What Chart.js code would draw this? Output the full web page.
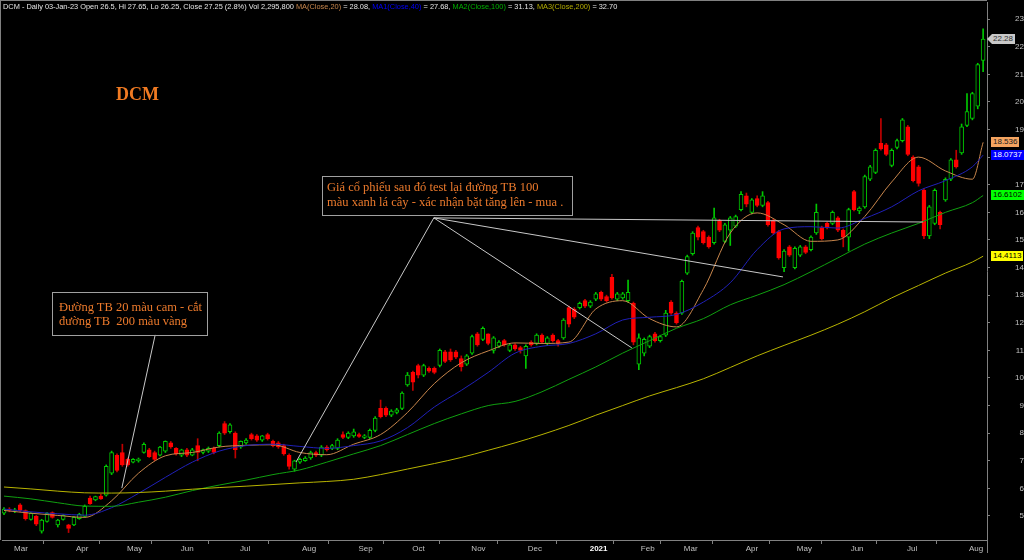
<!DOCTYPE html>
<html>
<head>
<meta charset="utf-8">
<script src="https://cdn.jsdelivr.net/npm/chart.js@4.4.1/dist/chart.umd.min.js"></script>
<style>
  html, body { margin: 0; padding: 0; background: #000; }
  #wrap { position: relative; width: 1024px; height: 560px; background: #000; overflow: hidden; }
  #wrap div { pointer-events: none; }
  #hdr { position: absolute; left: 3px; top: 2px; font: 7.4px "Liberation Sans", Arial, sans-serif; line-height: 10px; color: #e6e6e6; white-space: nowrap; }
  #title { position: absolute; left: 116px; top: 84px; font: bold 18px "Liberation Serif", "Times New Roman", serif; color: #f07a22; }
  .note { position: absolute; border: 1px solid #a0a0a0; box-sizing: border-box; color: #ec7a2c;
          font: 12.5px "Liberation Serif", "Times New Roman", serif; white-space: pre; }
  .tag { position: absolute; font: 8px "Liberation Sans", Arial, sans-serif; height: 10px; line-height: 10px; padding: 0 2px; }
</style>
</head>
<body>
<div id="wrap">
  <canvas id="chart" width="1024" height="560"></canvas>
  <div id="hdr">DCM - Daily 03-Jan-23 Open 26.5, Hi 27.65, Lo 26.25, Close 27.25 (2.8%) Vol 2,295,800 <span style="color:#c8864c">MA(Close,20)</span> = 28.08, <span style="color:#0000ff">MA1(Close,40)</span> = 27.68, <span style="color:#00b000">MA2(Close,100)</span> = 31.13, <span style="color:#b4ac00">MA3(Close,200)</span> = 32.70</div>
  <div id="title">DCM</div>
  <div class="note" style="left:52px;top:292px;width:156px;height:44px;padding:7px 0 0 6px;line-height:14px;">Đường TB 20 màu cam - cắt
đường TB  200 màu vàng</div>
  <div class="note" style="left:322px;top:176px;width:251px;height:40px;padding:3px 0 0 4px;line-height:15px;">Giá cổ phiếu sau đó test lại đường TB 100
màu xanh lá cây - xác nhận bặt tăng lên - mua .</div>
</div>
<script>
// daily candles merged two sessions per bar, Feb 2020 .. Aug 2021
const opens = [
  5.1, 5.25, 5.2, 5.4, 5.2, 4.88, 5.0, 4.45, 4.8, 5.12,
  4.68, 4.88, 4.68, 4.68, 4.9, 4.98, 5.65, 5.58, 5.72, 5.75,
  6.55, 7.2, 7.3, 7.05, 6.95, 7.0, 7.3, 7.4, 7.3, 7.2,
  7.35, 7.65, 7.45, 7.2, 7.4, 7.2, 7.55, 7.3, 7.35, 7.45,
  7.55, 8.35, 8.05, 8.0, 7.5, 7.65, 7.95, 7.9, 7.75, 7.95,
  7.7, 7.65, 7.55, 7.2, 6.7, 6.95, 7.0, 7.1, 7.3, 7.2,
  7.5, 7.45, 7.45, 7.95, 7.85, 7.9, 7.95, 7.85, 7.85, 8.1,
  8.9, 8.9, 8.65, 8.75, 8.9, 9.75, 10.2, 10.45, 10.1, 10.35,
  10.35, 10.45, 10.95, 10.95, 10.95, 10.7, 10.5, 10.9, 11.6, 11.4,
  11.6, 11.0, 11.15, 11.35, 11.0, 11.2, 11.1, 10.8, 11.3, 11.25,
  11.55, 11.25, 11.55, 11.35, 11.45, 12.55, 12.5, 12.55, 12.8, 12.6,
  12.85, 13.1, 12.95, 13.65, 12.85, 12.9, 12.8, 12.7, 10.5, 10.9,
  11.15, 11.6, 11.35, 11.55, 12.75, 12.35, 12.35, 13.8, 14.5, 15.45,
  15.3, 15.1, 14.9, 15.7, 14.95, 15.35, 15.5, 16.1, 16.6, 16.0,
  16.5, 16.25, 16.35, 15.7, 15.3, 14.0, 14.75, 14.0, 14.45, 14.75,
  14.65, 15.25, 15.45, 15.6, 15.6, 15.8, 15.35, 15.1, 16.75, 16.05,
  16.2, 17.2, 17.45, 18.5, 18.45, 17.7, 18.35, 18.6, 19.1, 18.0,
  17.65, 16.8, 15.15, 15.6, 16.0, 16.45, 17.2, 17.9, 18.15, 19.15,
  19.4, 19.85, 21.5
];
const highs = [
  5.3, 5.3, 5.28, 5.45, 5.22, 5.12, 5.02, 4.88, 5.12, 5.15,
  4.88, 5.05, 4.7, 4.98, 5.1, 5.4, 5.72, 5.72, 5.78, 6.85,
  7.35, 7.25, 7.6, 7.1, 7.08, 7.1, 7.65, 7.45, 7.35, 7.52,
  7.72, 7.7, 7.48, 7.42, 7.45, 7.45, 7.8, 7.42, 7.5, 7.5,
  8.05, 8.42, 8.35, 8.05, 7.72, 7.8, 8.0, 7.95, 7.92, 8.0,
  7.75, 7.7, 7.6, 7.25, 7.02, 7.1, 7.15, 7.35, 7.35, 7.55,
  7.55, 7.6, 7.8, 8.05, 8.05, 8.15, 8.0, 7.95, 8.15, 8.6,
  9.2, 8.95, 8.85, 8.9, 9.5, 10.2, 10.25, 10.5, 10.5, 10.4,
  10.4, 11.05, 11.0, 11.05, 11.0, 10.8, 10.85, 11.55, 11.65, 11.85,
  11.6, 11.5, 11.35, 11.4, 11.22, 11.25, 11.15, 11.2, 11.35, 11.6,
  11.6, 11.5, 11.6, 11.4, 12.15, 12.6, 12.55, 12.75, 12.85, 12.8,
  13.1, 13.15, 13.0, 13.75, 13.1, 13.1, 13.55, 12.75, 11.6, 11.45,
  11.55, 11.65, 11.55, 12.45, 12.8, 12.4, 13.55, 14.45, 15.3, 15.5,
  15.35, 15.15, 16.15, 15.75, 15.6, 15.85, 15.9, 16.75, 16.7, 16.5,
  16.6, 16.75, 16.4, 15.75, 15.35, 14.65, 14.8, 14.75, 14.8, 14.8,
  15.15, 16.3, 15.5, 15.65, 16.05, 15.85, 15.4, 16.15, 16.8, 16.2,
  17.35, 17.7, 18.3, 19.4, 18.5, 18.3, 18.65, 19.4, 19.15, 18.05,
  17.7, 16.85, 16.25, 16.85, 16.05, 17.25, 17.95, 18.25, 19.2, 20.3,
  20.35, 21.4, 22.65
];
const lows = [
  5.05, 5.15, 5.12, 5.15, 4.85, 4.85, 4.65, 4.38, 4.78, 4.92,
  4.6, 4.85, 4.4, 4.65, 4.88, 4.95, 5.42, 5.55, 5.6, 5.72,
  6.5, 6.6, 6.8, 6.8, 6.92, 6.95, 7.28, 7.12, 7.0, 7.18,
  7.3, 7.45, 7.2, 7.15, 7.15, 7.18, 7.0, 7.25, 7.3, 7.25,
  7.5, 7.95, 8.0, 7.1, 7.45, 7.6, 7.75, 7.7, 7.7, 7.75,
  7.5, 7.45, 7.2, 6.7, 6.62, 6.9, 6.98, 7.05, 7.15, 7.15,
  7.35, 7.4, 7.4, 7.8, 7.8, 7.85, 7.85, 7.8, 7.8, 8.05,
  8.55, 8.6, 8.6, 8.7, 8.85, 9.7, 9.55, 10.0, 10.05, 10.2,
  10.15, 10.4, 10.55, 10.6, 10.7, 10.25, 10.45, 10.85, 11.15, 11.35,
  11.2, 10.9, 11.1, 11.15, 10.95, 11.0, 10.9, 10.35, 11.15, 11.2,
  11.25, 11.2, 11.3, 11.15, 11.4, 11.85, 12.15, 12.5, 12.55, 12.55,
  12.8, 12.8, 12.75, 12.85, 12.8, 12.85, 12.75, 11.2, 10.3, 10.8,
  11.1, 11.3, 11.3, 11.5, 12.3, 11.95, 12.3, 13.75, 14.45, 15.0,
  14.85, 14.7, 14.85, 15.3, 14.9, 14.8, 15.45, 16.05, 16.2, 15.95,
  16.2, 16.2, 15.5, 15.2, 14.3, 13.85, 14.4, 13.95, 14.4, 14.5,
  14.6, 15.2, 15.0, 15.4, 15.55, 15.3, 14.75, 14.6, 16.05, 15.95,
  16.15, 17.15, 17.4, 18.25, 18.05, 17.65, 18.3, 18.55, 18.05, 17.1,
  16.95, 15.05, 15.05, 15.55, 15.4, 16.4, 17.15, 17.6, 18.1, 19.1,
  19.35, 19.75, 21.1
];
const closes = [
  5.25, 5.2, 5.22, 5.2, 4.9, 5.1, 4.7, 4.85, 5.1, 4.95,
  4.85, 5.02, 4.55, 4.95, 5.06, 5.35, 5.45, 5.7, 5.62, 6.8,
  7.3, 6.65, 6.85, 6.85, 7.05, 7.06, 7.6, 7.15, 7.05, 7.5,
  7.7, 7.5, 7.25, 7.4, 7.2, 7.4, 7.3, 7.4, 7.45, 7.3,
  8.0, 8.0, 8.3, 7.4, 7.7, 7.75, 7.8, 7.75, 7.9, 7.8,
  7.55, 7.5, 7.25, 6.8, 7.0, 7.05, 7.1, 7.3, 7.2, 7.5,
  7.4, 7.55, 7.75, 7.85, 8.0, 8.05, 7.88, 7.9, 8.1, 8.55,
  8.6, 8.65, 8.8, 8.85, 9.45, 10.1, 9.85, 10.1, 10.45, 10.25,
  10.2, 11.0, 10.6, 10.65, 10.75, 10.4, 10.8, 11.5, 11.2, 11.8,
  11.25, 11.45, 11.3, 11.2, 11.2, 11.05, 11.0, 11.15, 11.2, 11.55,
  11.3, 11.45, 11.35, 11.25, 12.1, 11.95, 12.2, 12.7, 12.6, 12.75,
  13.05, 12.85, 12.8, 12.9, 13.05, 13.05, 13.1, 11.3, 11.45, 11.4,
  11.5, 11.35, 11.5, 12.35, 12.35, 12.0, 13.5, 14.4, 15.25, 15.1,
  14.9, 14.75, 15.8, 15.35, 15.55, 15.8, 15.85, 16.65, 16.3, 16.45,
  16.25, 16.6, 15.55, 15.25, 14.35, 14.6, 14.45, 14.7, 14.75, 14.55,
  15.1, 16.0, 15.05, 15.45, 16.0, 15.35, 15.1, 16.1, 16.1, 16.15,
  17.3, 17.65, 18.25, 18.3, 18.1, 18.25, 18.6, 19.35, 18.1, 17.15,
  17.05, 15.15, 16.2, 16.8, 15.55, 17.2, 17.9, 17.65, 19.1, 19.65,
  20.3, 21.35, 22.28
];

const maIdx = [0, 5, 10, 15, 20, 25, 30, 35, 40, 45, 50, 55, 60, 65, 70, 75, 80, 85, 90, 95,
  100, 105, 110, 115, 120, 125, 130, 135, 140, 145, 150, 155, 160, 165, 170, 175, 180, 182];
const ma20 = [5.2, 5.1, 5.02, 4.95, 5.55, 6.55, 7.18, 7.3, 7.5, 7.56, 7.58, 7.3, 7.22, 7.6, 7.95, 8.75, 9.8, 10.55, 10.98, 11.27,
  11.25, 11.3, 12.5, 12.8, 12.15, 11.85, 13.2, 15.25, 15.98, 15.55, 14.95, 15.0, 15.85, 17.1, 18.0, 17.5, 17.2, 18.536];
const ma40 = [5.25, 5.15, 5.08, 5.03, 5.3, 5.82, 6.4, 6.95, 7.35, 7.55, 7.6, 7.52, 7.45, 7.55, 7.72, 8.2, 8.95, 9.55, 10.2, 10.9,
  11.15, 11.25, 11.6, 12.1, 12.2, 12.3, 12.75, 13.45, 14.65, 15.4, 15.48, 15.43, 15.78, 16.2, 16.78, 17.15, 17.65, 18.0737];
const ma100 = [5.72, 5.62, 5.48, 5.36, 5.35, 5.5, 5.68, 5.92, 6.12, 6.3, 6.5, 6.67, 6.95, 7.25, 7.55, 7.95, 8.35, 8.7, 9.0, 9.15,
  9.5, 9.95, 10.4, 10.9, 11.35, 11.8, 12.15, 12.65, 13.0, 13.38, 13.85, 14.35, 14.85, 15.25, 15.6, 16.0, 16.35, 16.6102];
const ma200 = [6.05, 5.98, 5.9, 5.84, 5.83, 5.85, 5.9, 5.97, 6.03, 6.08, 6.14, 6.2, 6.25, 6.33, 6.5, 6.7, 6.9, 7.12, 7.38, 7.65,
  7.95, 8.28, 8.65, 9.0, 9.35, 9.65, 9.97, 10.38, 10.8, 11.18, 11.55, 11.95, 12.4, 12.9, 13.35, 13.8, 14.2, 14.4113];

// axis ticks
const monthIdx = [1.5, 13, 22.5, 32.5, 43.5, 55, 65.5, 75.5, 86.5, 97, 108.5, 118, 126, 137.5, 147, 157, 167.5, 179];
const monthNames = ['Mar', 'Apr', 'May', 'Jun', 'Jul', 'Aug', 'Sep', 'Oct', 'Nov', 'Dec', '2021', 'Feb', 'Mar', 'Apr', 'May', 'Jun', 'Jul', 'Aug'];
const yTicks = [5, 6, 7, 8, 9, 10, 11, 12, 13, 14, 15, 16, 17, 18, 19, 20, 21, 22, 23];

// annotation pointers in (bar, price): from box to target
const noteLines = [
  [28.1, 11.56, 21.9, 6.01],
  [79.9, 15.8, 54.3, 6.96],
  [79.9, 15.8, 116.7, 11.09],
  [79.9, 15.8, 144.8, 13.66],
  [79.9, 15.8, 170.8, 15.65]
];

const GREEN = '#00c800';
const RED = '#ff0000';
const up = closes.map((c, i) => c >= opens[i]);

Chart.defaults.font.family = '"Liberation Sans", Arial, sans-serif';

const notePlugin = {
  id: 'notes',
  afterDatasetsDraw(chart) {
    const { ctx, scales: { x, y } } = chart;
    ctx.save();
    ctx.strokeStyle = '#c8c8c8';
    ctx.lineWidth = 1;
    noteLines.forEach(([x0, y0, x1, y1]) => {
      ctx.beginPath();
      ctx.moveTo(x.getPixelForValue(x0), y.getPixelForValue(y0));
      ctx.lineTo(x.getPixelForValue(x1), y.getPixelForValue(y1));
      ctx.stroke();
    });
    ctx.restore();
  }
};

// thin frame on top and left like the terminal window
const framePlugin = {
  id: 'frame',
  afterDraw(chart) {
    const { ctx, chartArea } = chart;
    ctx.save();
    ctx.strokeStyle = '#808080';
    ctx.lineWidth = 1;
    ctx.beginPath();
    ctx.moveTo(0, 0.5);
    ctx.lineTo(chartArea.right, 0.5);
    ctx.moveTo(0.5, 0);
    ctx.lineTo(0.5, chartArea.bottom);
    ctx.moveTo(chartArea.right + 0.5, chartArea.bottom);
    ctx.lineTo(chartArea.right + 0.5, chartArea.bottom + 13);
    ctx.stroke();
    ctx.restore();
  }
};

const maLine = (vals, color) => ({
  type: 'line',
  data: maIdx.map((x, k) => ({ x, y: vals[k] })),
  borderColor: color,
  borderWidth: 1,
  pointRadius: 0,
  cubicInterpolationMode: 'monotone',
  order: 0
});

const config = {
  type: 'bar',
  data: {
    datasets: [
      {
        // wicks
        data: closes.map((c, i) => ({ x: i, y: [lows[i], highs[i]] })),
        backgroundColor: up.map(u => (u ? GREEN : '#c00000')),
        barThickness: 1,
        grouped: false,
        order: 2
      },
      {
        // bodies, hollow when up
        data: closes.map((c, i) => ({ x: i, y: [opens[i], c] })),
        backgroundColor: up.map(u => (u ? '#000000' : RED)),
        borderColor: up.map(u => (u ? GREEN : RED)),
        borderWidth: 1,
        borderSkipped: false,
        barThickness: 4,
        grouped: false,
        order: 1
      },
      maLine(ma200, '#b8b400'),
      maLine(ma100, '#10a010'),
      maLine(ma40, '#2020b8'),
      maLine(ma20, '#c8864c')
    ]
  },
  options: {
    responsive: false,
    animation: false,
    events: [],
    layout: { padding: { left: 2, top: 2 } },
    plugins: { legend: { display: false }, tooltip: { enabled: false } },
    scales: {
      x: {
        type: 'linear',
        min: -0.372,
        max: 182.72,
        offset: false,
        afterFit: s => { s.height = 20; s.paddingLeft = 0; s.paddingRight = 0; },
        afterBuildTicks: s => { s.ticks = monthIdx.map(v => ({ value: v })); },
        grid: { drawOnChartArea: false, drawTicks: true, tickLength: 4, color: '#808080' },
        border: { display: true, color: '#808080' },
        ticks: {
          autoSkip: false,
          maxRotation: 0,
          align: 'start',
          labelOffset: 2,
          padding: 0,
          color: ctx => (monthNames[ctx.index] === '2021' ? '#ffffff' : '#c0c0c0'),
          font: ctx => ({ size: 8, weight: monthNames[ctx.index] === '2021' ? 'bold' : 'normal' }),
          callback: (value, index) => monthNames[index]
        }
      },
      y: {
        position: 'right',
        min: 4.13,
        max: 23.62,
        afterFit: s => { s.width = 37; s.paddingTop = 0; s.paddingBottom = 0; },
        afterBuildTicks: s => { s.ticks = yTicks.map(v => ({ value: v })); },
        grid: { drawOnChartArea: false, drawTicks: true, tickLength: 3, color: '#808080' },
        border: { display: true, color: '#808080' },
        ticks: {
          crossAlign: 'far',
          padding: 22,
          color: '#c0c0c0',
          font: { size: 8 },
          callback: v => String(v)
        }
      }
    }
  },
  plugins: [notePlugin, framePlugin]
};

const chart = new Chart(document.getElementById('chart'), config);

// value tags on the right axis
const last = a => a[a.length - 1];
const tags = [
  { v: last(closes), bg: '#c8c8c8', fg: '#303030', arrow: true },
  { v: last(ma20), bg: '#f4a460', fg: '#202020' },
  { v: last(ma40), bg: '#0000ff', fg: '#ffffff' },
  { v: last(ma100), bg: '#00ff00', fg: '#000000' },
  { v: last(ma200), bg: '#ffff00', fg: '#000000' }
];
const wrap = document.getElementById('wrap');
tags.forEach(t => {
  const d = document.createElement('div');
  d.className = 'tag';
  d.textContent = String(t.v);
  d.style.background = t.bg;
  d.style.color = t.fg;
  const yPix = chart.scales.y.getPixelForValue(t.v);
  d.style.top = (yPix - 5) + 'px';
  if (t.arrow) {
    d.style.left = '987px';
    d.style.paddingLeft = '6px';
    d.style.clipPath = 'polygon(0 50%, 5px 0, 100% 0, 100% 100%, 5px 100%)';
  } else {
    d.style.left = '991px';
  }
  wrap.appendChild(d);
});
</script>
</body>
</html>
